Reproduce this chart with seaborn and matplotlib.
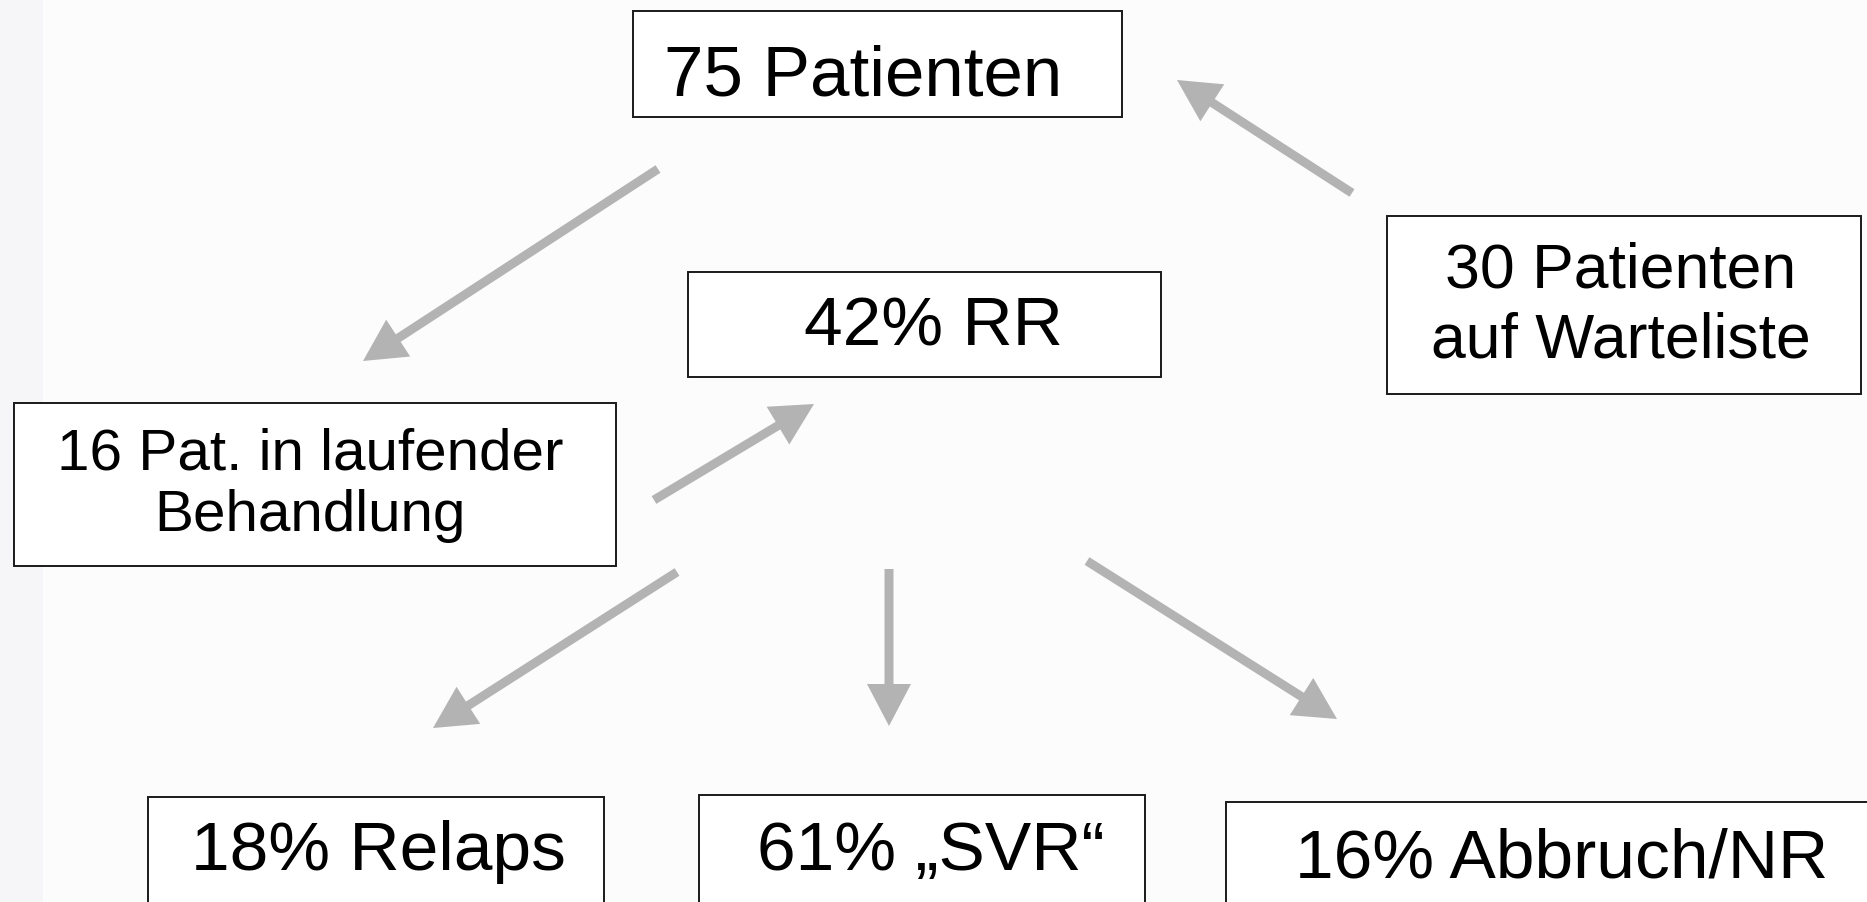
import numpy as np
import matplotlib
matplotlib.use("Agg")
import matplotlib.pyplot as plt
import seaborn as sns
from matplotlib.patches import Rectangle

# Flow chart content

labels = [
    "75 Patienten",
    "42% RR",
    "30 Patienten\nauf Warteliste",
    "16 Pat. in laufender\nBehandlung",
    "18% Relaps",
    "61% \u201eSVR\u201c",
    "16% Abbruch/NR",
]

# layout (pixels, origin top-left)
box_left = [633, 688, 1387, 14, 148, 699, 1226]
box_right = [1122, 1161, 1861, 616, 604, 1145, 1880]
box_top = [11, 272, 216, 403, 797, 795, 802]
box_bottom = [117, 377, 394, 566, 910, 910, 910]
text_x = [863, 933, 1621, 310, 378, 931, 1562]
text_base = [96, 345, 287, 470, 870, 870, 877]
font_sizes = [51, 50, 45, 42, 50, 50, 50]
line_step = [0, 0, 70, 61, 0, 0, 0]

# arrows: tail -> tip
arrow_x0 = [658, 1352, 654, 677, 889, 1087]
arrow_y0 = [169, 193, 500, 572, 569, 561]
arrow_x1 = [363, 1177, 814, 433, 889, 1337]
arrow_y1 = [361, 80, 404, 728, 726, 719]

sns.set_theme(style="white")
plt.rcParams['font.family'] = ['Liberation Sans', 'DejaVu Sans']

W, H = 1867, 902
fig = plt.figure(figsize=(W / 100, H / 100), dpi=100)
ax = fig.add_axes([0, 0, 1, 1])
ax.set_xlim(0, W)
ax.set_ylim(H, 0)
ax.axis('off')

# background
ax.add_patch(Rectangle((0, 0), W, H, facecolor='#fcfcfc', edgecolor='none', zorder=0))
ax.add_patch(Rectangle((0, 0), 43, H, facecolor='#f6f6f8', edgecolor='none', zorder=0))

# arrows
for x0, y0, x1, y1 in zip(arrow_x0, arrow_y0, arrow_x1, arrow_y1):
    ax.arrow(x0, y0, x1 - x0, y1 - y0, width=9, head_width=44, head_length=42,
             length_includes_head=True, facecolor='#b3b3b3', edgecolor='none', zorder=2)

# boxes and texts
for i, lab in enumerate(labels):
    ax.add_patch(Rectangle((box_left[i], box_top[i]),
                           box_right[i] - box_left[i], box_bottom[i] - box_top[i],
                           facecolor='white', edgecolor='#1a1a1a', linewidth=1.4, zorder=3))
    for j, line in enumerate(lab.split("\n")):
        ax.text(text_x[i], text_base[i] + j * line_step[i], line,
                ha='center', va='baseline', fontsize=font_sizes[i], color='black', zorder=4)

fig.savefig("out.png", dpi=100)
